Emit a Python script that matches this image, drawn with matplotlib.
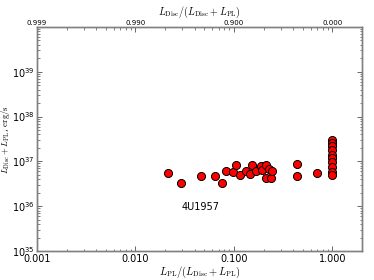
import matplotlib
matplotlib.use("Agg")
import matplotlib.pyplot as plt
import matplotlib.ticker as mticker
import numpy as np

plt.rcParams['mathtext.fontset'] = 'cm'
plt.rcParams['font.family'] = ['DejaVu Sans']

# Data: power-law fraction vs total luminosity (erg/s)
pl_frac = [0.0214, 0.0292, 0.0459, 0.0636, 0.0754, 0.0835, 0.0984, 0.1045, 0.114,
           0.133, 0.147, 0.152, 0.168, 0.189, 0.195, 0.212, 0.214, 0.226, 0.240,
           0.244, 0.441, 0.441, 0.703,
           1.0, 1.0, 1.0, 1.0, 1.0, 1.0, 1.0, 1.0, 1.0, 1.0]
log_lum = [36.748, 36.511, 36.667, 36.674, 36.525, 36.792, 36.770, 36.913, 36.703,
           36.779, 36.725, 36.926, 36.792, 36.904, 36.801, 36.920, 36.623, 36.830, 36.623,
           36.792, 36.935, 36.681, 36.748,
           37.478, 37.411, 37.344, 37.254, 37.143, 37.076, 36.987, 36.875, 36.763, 36.696]
lum = [10 ** v for v in log_lum]

x_ticks = [0.001, 0.01, 0.1, 1.0]
top_labels = ['0.999', '0.990', '0.900', '0.000']
y_ticks = [1e35, 1e36, 1e37, 1e38, 1e39]
source_label = '4U1957'

fig = plt.figure(figsize=(3.74, 2.80), dpi=100)
ax = fig.add_axes([0.099, 0.1036, 0.869, 0.80])

ax.plot(pl_frac, lum, 'o', color='red', markeredgecolor='black',
        markeredgewidth=0.7, markersize=5.8, linestyle='none')
ax.set_xscale('log')
ax.set_yscale('log')
ax.set_xlim(0.001, 2.0)
ax.set_ylim(1e35, 1e40)

ax.xaxis.set_major_locator(mticker.FixedLocator(x_ticks))
ax.xaxis.set_major_formatter(mticker.FormatStrFormatter('%.3f'))
ax.xaxis.set_minor_locator(mticker.LogLocator(base=10, subs=np.arange(2, 10)))
ax.xaxis.set_minor_formatter(mticker.NullFormatter())
ax.yaxis.set_major_locator(mticker.FixedLocator(y_ticks))
ax.yaxis.set_major_formatter(mticker.LogFormatterSciNotation())
ax.yaxis.set_minor_locator(mticker.LogLocator(base=10, subs=np.arange(2, 10), numticks=20))
ax.yaxis.set_minor_formatter(mticker.NullFormatter())

ax.tick_params(which='both', direction='in', top=False, right=True, labelsize=7,
               color='0.3')
ax.tick_params(which='major', length=3.5, width=0.6)
ax.tick_params(which='minor', length=1.8, width=0.5)
ax.tick_params(axis='x', which='major', pad=2)
ax.tick_params(axis='y', which='major', pad=2)

for sp in ax.spines.values():
    sp.set_color('0.5')
    sp.set_linewidth(1.0)

ax.set_xlabel(r'$L_{\rm PL}/(L_{\rm Disc}+L_{\rm PL})$', fontsize=7.5, labelpad=1)
ax.set_ylabel(r'$L_{\rm Disc}+L_{\rm PL}$, ${\rm erg/s}$', fontsize=6.3)
ax.yaxis.set_label_coords(-0.078, 0.5)

ax2 = ax.twiny()
ax2.set_xscale('log')
ax2.set_xlim(ax.get_xlim())
ax2.xaxis.set_major_locator(mticker.FixedLocator(x_ticks))
ax2.xaxis.set_major_formatter(mticker.FixedFormatter(top_labels))
ax2.xaxis.set_minor_locator(mticker.LogLocator(base=10, subs=np.arange(2, 10)))
ax2.xaxis.set_minor_formatter(mticker.NullFormatter())
ax2.tick_params(which='both', direction='in', labelsize=5, color='0.3')
ax2.tick_params(which='major', length=3.5, width=0.6, pad=0.8)
ax2.tick_params(which='minor', length=1.8, width=0.5)
ax2.set_xlabel(r'$L_{\rm Disc}/(L_{\rm Disc}+L_{\rm PL})$', fontsize=7.2, labelpad=3.5)
for sp in ax2.spines.values():
    sp.set_color('0.5')
    sp.set_linewidth(1.0)

ax.text(0.0294, 9.6e35, source_label, fontsize=7, ha='left', va='center')

fig.savefig('out.png', dpi=100)
